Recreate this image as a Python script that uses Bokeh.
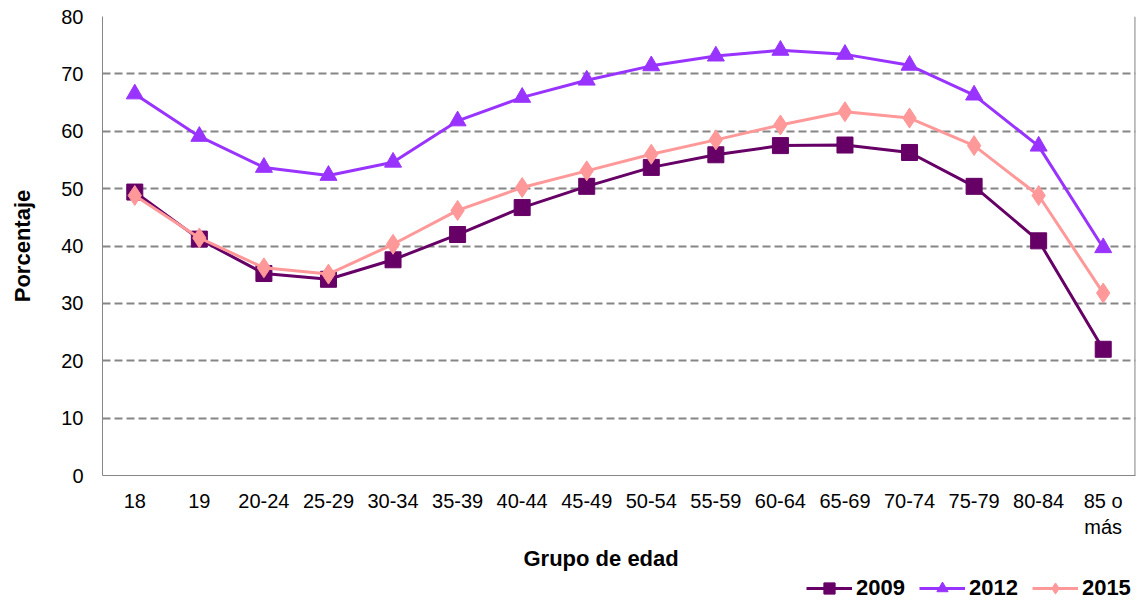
from bokeh.plotting import figure
from bokeh.layouts import column
from bokeh.models import FactorRange, Legend, LegendItem, Title, Span, FixedTicker, Range1d
from bokeh.embed import file_html
from bokeh.resources import INLINE

groups = ["18", "19", "20-24", "25-29", "30-34", "35-39", "40-44", "45-49", "50-54",
          "55-59", "60-64", "65-69", "70-74", "75-79", "80-84", "85 o\nmás"]
s2009 = [49.4, 41.2, 35.2, 34.2, 37.6, 42.0, 46.7, 50.4, 53.7, 55.9, 57.5, 57.6, 56.3, 50.4, 40.9, 22.0]
s2012 = [66.5, 59.1, 53.7, 52.3, 54.6, 61.8, 65.9, 68.9, 71.4, 73.1, 74.1, 73.4, 71.5, 66.3, 57.4, 39.7]
s2015 = [48.8, 41.4, 36.2, 35.1, 40.3, 46.2, 50.2, 53.1, 56.0, 58.5, 61.1, 63.4, 62.3, 57.5, 48.8, 31.8]
y_ticks = [0, 10, 20, 30, 40, 50, 60, 70, 80]
series_names = ["2009", "2012", "2015"]
x_title = "Grupo de edad"
y_title = "Porcentaje"

FONT = "Liberation Sans"
GRID = "#868686"
colors = ["#660066", "#9933FF", "#FF9999"]
markers = ["square", "triangle", "diamond"]
msizes = [16, 17, 20]

p = figure(x_range=FactorRange(*groups, range_padding=0), y_range=(0, 80),
           width=1140, height=574, output_backend="svg", toolbar_location=None,
           min_border_left=102, min_border_right=5, min_border_top=16, min_border_bottom=99)
p.outline_line_color = None
p.background_fill_color = "white"
p.border_fill_color = "white"

p.yaxis.ticker = FixedTicker(ticks=y_ticks)
for ax in (p.xaxis, p.yaxis):
    ax.axis_line_color = GRID
    ax.axis_line_width = 1
    ax.major_tick_line_color = None
    ax.minor_tick_line_color = None
    ax.major_label_text_font = FONT
    ax.major_label_text_color = "black"
    ax.major_label_text_font_size = "20px"
p.xaxis.major_label_standoff = 8
p.yaxis.major_label_standoff = 13
p.yaxis.axis_label = y_title
p.yaxis.axis_label_text_font = FONT
p.yaxis.axis_label_text_color = "black"
p.yaxis.axis_label_text_font_style = "bold"
p.yaxis.axis_label_text_font_size = "22px"
p.yaxis.axis_label_standoff = 23

p.xgrid.grid_line_color = None
p.ygrid.grid_line_color = GRID
p.ygrid.grid_line_width = 2
p.ygrid.grid_line_dash = "8 4"

p.add_layout(Span(location=len(groups) - 0.005, dimension="height", line_color=GRID, line_width=1.5))

for vals, col, mk, ms in zip([s2009, s2012, s2015], colors, markers, msizes):
    p.line(groups, vals, line_color=col, line_width=3)
    p.scatter(groups, vals, marker=mk, size=ms, fill_color=col, line_color=col)

p.add_layout(Title(text=x_title, align="left", offset=421, text_font=FONT,
                   text_font_style="bold", text_font_size="22px", text_color="black",
                   standoff=6), "below")

# legend strip (its frame is aligned with the chart frame by the column layout)
lg = figure(width=1140, height=28, output_backend="svg", toolbar_location=None,
            x_axis_location=None, y_axis_location=None,
            x_range=Range1d(1, 2), y_range=Range1d(1, 2),
            min_border_left=0, min_border_right=0, min_border_top=0, min_border_bottom=0)
lg.outline_line_color = None
lg.xgrid.visible = False
lg.ygrid.visible = False
items = []
for name, col, mk in zip(series_names, colors, markers):
    r1 = lg.line(x=[-5, -4], y=[-5, -4], line_color=col, line_width=3)
    r2 = lg.scatter(x=[-5], y=[-5], marker=mk, fill_color=col, line_color=col)
    items.append(LegendItem(label=name, renderers=[r1, r2], index=0))
legend = Legend(items=items, orientation="horizontal", location=(704, 0),
                label_text_font=FONT, label_text_font_style="bold", label_text_font_size="22px",
                label_text_color="black",
                glyph_width=46, glyph_height=28, label_standoff=4, spacing=14,
                padding=0, margin=0, border_line_color=None, background_fill_alpha=0)
lg.add_layout(legend)

open("out.html", "w").write(file_html(column(p, lg, spacing=0), INLINE))
